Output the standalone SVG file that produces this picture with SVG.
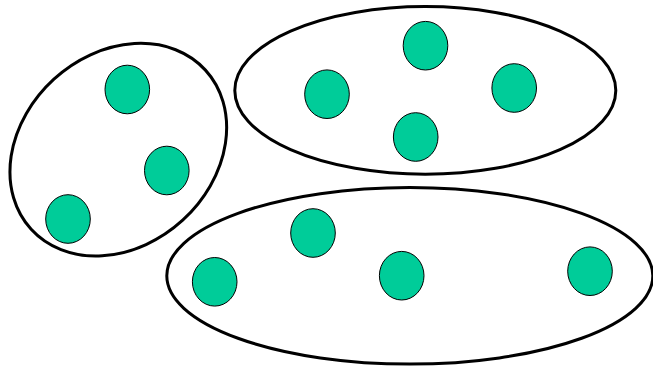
<svg xmlns="http://www.w3.org/2000/svg" width="653" height="368" viewBox="0 0 653 368">
<style>
.cluster{fill:none;stroke:#000;stroke-width:3}
.pt{fill:#00CC99;stroke:#000;stroke-width:1}
</style>
<rect width="653" height="368" fill="#fff"/>
<g id="clusters">
<g id="cluster-left"><ellipse class="cluster" cx="118.3" cy="149.7" rx="118" ry="95.5" transform="rotate(-42.4 118.3 149.7)"/></g>
<g id="cluster-top"><ellipse class="cluster" cx="425.3" cy="90.4" rx="190.5" ry="83.8"/></g>
<g id="cluster-bottom"><ellipse class="cluster" cx="409.8" cy="275.8" rx="243" ry="88.3"/></g>
</g>
<g id="connectors"></g>
<g id="n1"><ellipse class="pt" cx="127.3" cy="89.5" rx="22.3" ry="24.3"/></g>
<g id="n2"><ellipse class="pt" cx="166.8" cy="170.5" rx="22.3" ry="24.3"/></g>
<g id="n3"><ellipse class="pt" cx="68" cy="219" rx="22.3" ry="24.3"/></g>
<g id="n4"><ellipse class="pt" cx="425.5" cy="45.7" rx="22.3" ry="24.3"/></g>
<g id="n5"><ellipse class="pt" cx="327" cy="94.2" rx="22.3" ry="24.3"/></g>
<g id="n6"><ellipse class="pt" cx="514.2" cy="88" rx="22.3" ry="24.3"/></g>
<g id="n7"><ellipse class="pt" cx="415.7" cy="137" rx="22.3" ry="24.3"/></g>
<g id="n8"><ellipse class="pt" cx="214.7" cy="281.8" rx="22.3" ry="24.3"/></g>
<g id="n9"><ellipse class="pt" cx="313" cy="233" rx="22.3" ry="24.3"/></g>
<g id="n10"><ellipse class="pt" cx="401.7" cy="275.7" rx="22.3" ry="24.3"/></g>
<g id="n11"><ellipse class="pt" cx="590" cy="271.2" rx="22.3" ry="24.3"/></g>
</svg>
